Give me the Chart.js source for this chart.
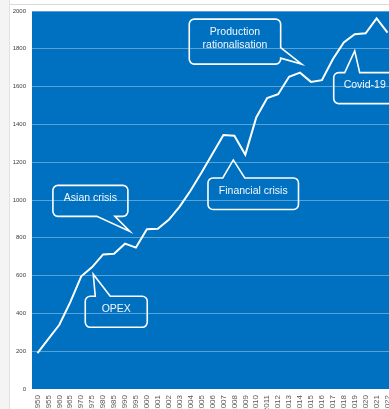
<!DOCTYPE html>
<html>
<head>
<meta charset="utf-8">
<script src="https://cdn.jsdelivr.net/npm/chart.js@4/dist/chart.umd.min.js"></script>
<style>
  html, body { margin: 0; padding: 0; width: 389px; height: 409px; overflow: hidden; background: #ffffff; }
  #strip { position: absolute; left: 0; top: 0; width: 9px; height: 409px; background: #f4f4f4; border-right: 1px solid #e2e2e2; }
  #topline { position: absolute; left: 10px; top: 4px; width: 379px; height: 0; border-top: 1px solid #dadada; }
  #wrap { position: absolute; left: 0; top: 0; width: 410px; height: 430px; }
</style>
</head>
<body>
<div id="strip"></div>
<div id="topline"></div>
<div id="wrap"><canvas id="c" width="410" height="430"></canvas></div>
<script>
// ---- data ----
const years = ['1950','1955','1960','1965','1970','1975','1980','1985','1990','1995',
  '2000','2001','2002','2003','2004','2005','2006','2007','2008','2009','2010','2011',
  '2012','2013','2014','2015','2016','2017','2018','2019','2020','2021','2022'];
const production = [190, 265, 340, 460, 596, 645, 712, 716, 769, 748,
  845, 848, 895, 965, 1050, 1145, 1245, 1344, 1340, 1240, 1437, 1539,
  1560, 1652, 1674, 1625, 1634, 1745, 1833, 1877, 1882, 1961, 1886];
const yTicks = [0, 200, 400, 600, 800, 1000, 1200, 1400, 1600, 1800, 2000];
const calloutLabels = ['Asian crisis', 'OPEX', 'Financial crisis', ['Production', 'rationalisation'], 'Covid-19'];
const calloutAnchorX = [8.45, 5.1, 17.9, 24.15, 29.0];   // category index (fractional)
const calloutAnchorY = [834, 607, 1212, 1719, 1789];     // value

// ---- styles / geometry of callouts (relative to anchor, px) ----
const calloutGeom = [
  { dx: -77, dy: -46, w: 75, h: 31, edge: 'bottom', a: -33, b: -15 },
  { dx: -8, dy: 22, w: 62, h: 31, edge: 'top', a: 2, b: 17 },
  { dx: -25.3, dy: 18, w: 90.5, h: 31.5, edge: 'top', a: -10.5, b: 11.5 },
  { dx: -112.4, dy: -45, w: 91.4, h: 45, edge: 'right', a: -16.6, b: -6 },
  { dx: -21, dy: 21.7, w: 62, h: 31, edge: 'top', a: -10, b: 5 }
];

const bgPlugin = {
  id: 'plotBg',
  beforeDraw(chart) {
    const { ctx, chartArea: a } = chart;
    ctx.save();
    ctx.fillStyle = '#0070C0';
    ctx.fillRect(a.left, a.top, a.right - a.left, a.bottom - a.top);
    ctx.restore();
  }
};

function calloutPath(ctx, x, y, w, h, r, g, tx, ty) {
  ctx.beginPath();
  ctx.moveTo(x + r, y);
  if (g.edge === 'top') {
    ctx.lineTo(tx + g.a, y); ctx.lineTo(tx, ty); ctx.lineTo(tx + g.b, y);
  }
  ctx.lineTo(x + w - r, y);
  ctx.arcTo(x + w, y, x + w, y + r, r);
  if (g.edge === 'right') {
    ctx.lineTo(x + w, ty + g.a); ctx.lineTo(tx, ty); ctx.lineTo(x + w, ty + g.b);
  }
  ctx.lineTo(x + w, y + h - r);
  ctx.arcTo(x + w, y + h, x + w - r, y + h, r);
  if (g.edge === 'bottom') {
    ctx.lineTo(tx + g.b, y + h); ctx.lineTo(tx, ty); ctx.lineTo(tx + g.a, y + h);
  }
  ctx.lineTo(x + r, y + h);
  ctx.arcTo(x, y + h, x, y + h - r, r);
  ctx.lineTo(x, y + r);
  ctx.arcTo(x, y, x + r, y, r);
  ctx.closePath();
}

const calloutPlugin = {
  id: 'callouts',
  afterDatasetsDraw(chart) {
    const { ctx, scales } = chart;
    ctx.save();
    ctx.strokeStyle = '#ffffff';
    ctx.lineWidth = 1.6;
    ctx.lineJoin = 'miter';
    ctx.fillStyle = '#f4f8fc';
    ctx.font = '10.5px "Liberation Sans", Arial, sans-serif';
    ctx.textAlign = 'center';
    ctx.textBaseline = 'middle';
    calloutLabels.forEach((lab, i) => {
      const tx = scales.x.getPixelForValue(calloutAnchorX[i]);
      const ty = scales.y.getPixelForValue(calloutAnchorY[i]);
      const g = calloutGeom[i];
      const x = tx + g.dx, y = ty + g.dy;
      calloutPath(ctx, x, y, g.w, g.h, 5, g, tx, ty);
      ctx.stroke();
      const lines = Array.isArray(lab) ? lab : [lab];
      const cx = x + g.w / 2, cy = y + g.h / 2 - 3;
      const lh = 12.5;
      lines.forEach((t, k) => {
        ctx.fillText(t, cx, cy + (k - (lines.length - 1) / 2) * lh);
      });
    });
    ctx.restore();
  }
};

new Chart(document.getElementById('c'), {
  type: 'line',
  data: {
    labels: years,
    datasets: [{
      data: production,
      borderColor: '#ffffff',
      borderWidth: 2,
      pointRadius: 0,
      tension: 0,
      fill: false
    }]
  },
  options: {
    responsive: false,
    animation: false,
    layout: { padding: { left: 0, top: 11, right: 17, bottom: 0 } },
    plugins: { legend: { display: false }, tooltip: { enabled: false } },
    scales: {
      x: {
        offset: true,
        grid: { display: false, drawTicks: false },
        border: { display: false },
        ticks: {
          autoSkip: false, maxRotation: 90, minRotation: 90, padding: 6,
          color: '#595959', font: { size: 8, family: '"Liberation Sans", Arial, sans-serif' }
        },
        afterFit(s) { s.height = 41; }
      },
      y: {
        min: 0, max: 2000,
        afterBuildTicks(s) { s.ticks = yTicks.map(v => ({ value: v })); },
        grid: { color: 'rgba(255,255,255,0.35)', lineWidth: 1, drawTicks: false },
        border: { display: false },
        ticks: {
          padding: 6, color: '#404040',
          font: { size: 6, family: '"Liberation Sans", Arial, sans-serif' },
          callback: (v) => String(v)
        },
        afterFit(s) { s.width = 32; }
      }
    }
  },
  plugins: [bgPlugin, calloutPlugin]
});
</script>
</body>
</html>
